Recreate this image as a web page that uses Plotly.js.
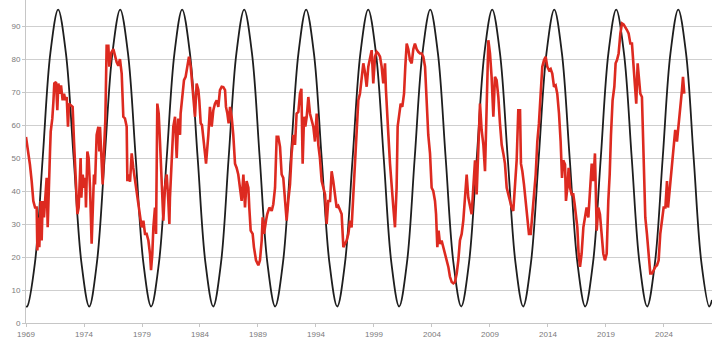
<!DOCTYPE html>
<html>
<head>
<meta charset="utf-8">
<script src="https://cdn.plot.ly/plotly-3.0.1.min.js"></script>
<style>html,body{margin:0;padding:0;background:#fff;}#chart{width:717px;height:355px;}</style>
</head>
<body>
<div id="chart"></div>
<script>
// Tick labels
const tickYears = [1969, 1974, 1979, 1984, 1989, 1994, 1999, 2004, 2009, 2014, 2019, 2024];
const tickLabels = ["1969", "1974", "1979", "1984", "1989", "1994", "1999", "2004", "2009", "2014", "2019", "2024"];

// Black cycle curve (extremes and intermediate points)
const blackYears = [1969.00, 1969.10, 1969.77, 1970.44, 1971.10,
  1971.77, 1972.44, 1973.11, 1973.78,
  1974.45, 1975.11, 1975.78, 1976.45,
  1977.12, 1977.79, 1978.46, 1979.12,
  1979.79, 1980.46, 1981.13, 1981.80,
  1982.46, 1983.13, 1983.80, 1984.47,
  1985.14, 1985.81, 1986.47, 1987.14,
  1987.81, 1988.48, 1989.15, 1989.81,
  1990.48, 1991.15, 1991.82, 1992.49,
  1993.15, 1993.82, 1994.49, 1995.16,
  1995.83, 1996.50, 1997.16, 1997.83,
  1998.50, 1999.17, 1999.84, 2000.50,
  2001.17, 2001.84, 2002.51, 2003.18,
  2003.85, 2004.51, 2005.18, 2005.85,
  2006.52, 2007.19, 2007.86, 2008.52,
  2009.19, 2009.86, 2010.53, 2011.20,
  2011.86, 2012.53, 2013.20, 2013.87,
  2014.54, 2015.20, 2015.87, 2016.54,
  2017.21, 2017.88, 2018.55, 2019.21,
  2019.88, 2020.55, 2021.22, 2021.89,
  2022.55, 2023.22, 2023.89, 2024.56,
  2025.23, 2025.90, 2026.56, 2027.23,
  2027.90, 2028.14];
const blackValues = [5.1, 5, 18.2, 50, 81.8,
  95, 81.8, 50, 18.2,
  5, 18.2, 50, 81.8,
  95, 81.8, 50, 18.2,
  5, 18.2, 50, 81.8,
  95, 81.8, 50, 18.2,
  5, 18.2, 50, 81.8,
  95, 81.8, 50, 18.2,
  5, 18.2, 50, 81.8,
  95, 81.8, 50, 18.2,
  5, 18.2, 50, 81.8,
  95, 81.8, 50, 18.2,
  5, 18.2, 50, 81.8,
  95, 81.8, 50, 18.2,
  5, 18.2, 50, 81.8,
  95, 81.8, 50, 18.2,
  5, 18.2, 50, 81.8,
  95, 81.8, 50, 18.2,
  5, 18.2, 50, 81.8,
  95, 81.8, 50, 18.2,
  5, 18.2, 50, 81.8,
  95, 81.8, 50, 18.2,
  5, 7];

// Red series
const redYears = [1969.00, 1969.20, 1969.34, 1969.49, 1969.63, 1969.78, 1969.92, 1969.98, 1970.06, 1970.15,
  1970.26, 1970.35, 1970.44, 1970.55, 1970.64, 1970.78, 1970.87, 1970.95, 1971.07, 1971.13,
  1971.27, 1971.36, 1971.44, 1971.59, 1971.70, 1971.79, 1971.93, 1972.02, 1972.16, 1972.28,
  1972.39, 1972.51, 1972.62, 1972.71, 1972.85, 1973.02, 1973.14, 1973.22, 1973.31, 1973.43,
  1973.54, 1973.66, 1973.71, 1973.77, 1973.89, 1974.00, 1974.11, 1974.17, 1974.29, 1974.40,
  1974.52, 1974.66, 1974.75, 1974.86, 1974.95, 1975.09, 1975.24, 1975.32, 1975.38, 1975.49,
  1975.61, 1975.72, 1975.84, 1975.95, 1976.10, 1976.18, 1976.36, 1976.53, 1976.67, 1976.82,
  1976.96, 1977.10, 1977.25, 1977.39, 1977.53, 1977.68, 1977.74, 1977.82, 1977.97, 1978.11,
  1978.25, 1978.40, 1978.54, 1978.68, 1978.83, 1978.97, 1979.12, 1979.26, 1979.40, 1979.55,
  1979.69, 1979.78, 1979.89, 1979.98, 1980.12, 1980.21, 1980.32, 1980.44, 1980.55, 1980.70,
  1980.84, 1980.98, 1981.13, 1981.27, 1981.36, 1981.41, 1981.56, 1981.70, 1981.85, 1981.99,
  1982.13, 1982.28, 1982.33, 1982.48, 1982.62, 1982.76, 1982.91, 1983.05, 1983.20, 1983.31,
  1983.43, 1983.57, 1983.71, 1983.86, 1983.94, 1984.06, 1984.17, 1984.29, 1984.43, 1984.52,
  1984.63, 1984.72, 1984.86, 1985.01, 1985.15, 1985.29, 1985.44, 1985.58, 1985.72, 1985.87,
  1986.01, 1986.16, 1986.24, 1986.36, 1986.47, 1986.59, 1986.73, 1986.87, 1987.02, 1987.16,
  1987.30, 1987.45, 1987.59, 1987.74, 1987.88, 1988.02, 1988.17, 1988.25, 1988.37, 1988.54,
  1988.65, 1988.83, 1989.03, 1989.17, 1989.32, 1989.40, 1989.52, 1989.69, 1989.80, 1989.98,
  1990.18, 1990.32, 1990.47, 1990.61, 1990.75, 1990.90, 1991.04, 1991.18, 1991.33, 1991.47,
  1991.61, 1991.76, 1991.90, 1992.05, 1992.19, 1992.33, 1992.48, 1992.62, 1992.74, 1992.85,
  1992.97, 1993.08, 1993.20, 1993.34, 1993.48, 1993.63, 1993.77, 1993.91, 1994.06, 1994.20,
  1994.34, 1994.49, 1994.63, 1994.78, 1994.92, 1995.06, 1995.21, 1995.35, 1995.49, 1995.64,
  1995.78, 1995.92, 1996.07, 1996.21, 1996.36, 1996.50, 1996.64, 1996.79, 1996.93, 1997.07,
  1997.22, 1997.36, 1997.51, 1997.65, 1997.79, 1997.94, 1998.08, 1998.22, 1998.37, 1998.51,
  1998.66, 1998.80, 1998.94, 1999.09, 1999.23, 1999.37, 1999.52, 1999.66, 1999.80, 1999.95,
  2000.03, 2000.09, 2000.24, 2000.38, 2000.52, 2000.67, 2000.81, 2000.95, 2001.04, 2001.16,
  2001.30, 2001.44, 2001.59, 2001.70, 2001.82, 2001.96, 2002.10, 2002.25, 2002.39, 2002.53,
  2002.68, 2002.82, 2002.97, 2003.11, 2003.25, 2003.40, 2003.54, 2003.68, 2003.83, 2003.97,
  2004.11, 2004.26, 2004.35, 2004.46, 2004.57, 2004.69, 2004.83, 2004.98, 2005.12, 2005.26,
  2005.41, 2005.55, 2005.70, 2005.84, 2005.98, 2006.13, 2006.27, 2006.41, 2006.56, 2006.70,
  2006.85, 2006.99, 2007.13, 2007.28, 2007.42, 2007.56, 2007.71, 2007.85, 2008.00, 2008.14,
  2008.28, 2008.43, 2008.57, 2008.71, 2008.86, 2009.00, 2009.14, 2009.29, 2009.43, 2009.57,
  2009.72, 2009.86, 2010.01, 2010.15, 2010.29, 2010.44, 2010.58, 2010.72, 2010.87, 2011.01,
  2011.16, 2011.30, 2011.44, 2011.59, 2011.67, 2011.79, 2011.93, 2012.07, 2012.22, 2012.36,
  2012.51, 2012.65, 2012.79, 2012.94, 2013.08, 2013.22, 2013.37, 2013.51, 2013.66, 2013.80,
  2013.94, 2014.09, 2014.23, 2014.37, 2014.52, 2014.66, 2014.80, 2014.95, 2015.09, 2015.21,
  2015.32, 2015.47, 2015.55, 2015.67, 2015.78, 2015.90, 2016.04, 2016.18, 2016.30, 2016.41,
  2016.53, 2016.64, 2016.76, 2016.90, 2017.05, 2017.19, 2017.33, 2017.48, 2017.62, 2017.77,
  2017.91, 2018.05, 2018.20, 2018.34, 2018.48, 2018.63, 2018.77, 2018.91, 2019.06, 2019.20,
  2019.32, 2019.43, 2019.57, 2019.72, 2019.83, 2019.95, 2020.09, 2020.24, 2020.38, 2020.52,
  2020.67, 2020.81, 2020.95, 2021.10, 2021.24, 2021.39, 2021.53, 2021.61, 2021.73, 2021.82,
  2021.96, 2022.10, 2022.25, 2022.39, 2022.53, 2022.68, 2022.82, 2022.97, 2023.11, 2023.25,
  2023.40, 2023.54, 2023.68, 2023.83, 2023.97, 2024.12, 2024.26, 2024.35, 2024.46, 2024.60,
  2024.72, 2024.83, 2024.97, 2025.12, 2025.26, 2025.41, 2025.55, 2025.64, 2025.75];
const redValues = [56.4, 52, 48, 43, 37, 35, 35, 22, 32, 23,
  37, 25, 37, 32, 38, 44, 29, 41, 52, 58,
  62, 67, 72.6, 73, 64.5, 72.6, 69.5, 72, 67.5, 69.5,
  67.5, 68.5, 59.5, 66.5, 66, 65.5, 55, 50, 43, 33,
  35, 43, 50, 38, 45, 41, 44, 35, 52, 50,
  41, 24, 37, 45, 42, 57, 59.5, 52, 59.5, 52,
  42, 52, 61.5, 84, 84, 77.7, 82, 83, 80.7, 79,
  78, 80, 75.6, 62.5, 62, 59.5, 43, 45, 42.8, 51.4,
  47, 43, 41, 37, 33, 29, 31, 27, 27, 25,
  21, 16, 21, 29, 35, 27, 66.5, 63.5, 55, 40,
  31, 41, 45, 37, 30, 38, 50, 59.5, 62.5, 50,
  62, 57, 63.5, 69.5, 73.6, 74.6, 77.7, 80.7, 77.7, 72.6,
  68.5, 62.5, 72.6, 70.6, 67.5, 60.5, 60, 55, 51.4, 48.3,
  52, 57, 65.5, 59.5, 64.5, 66.5, 67.5, 65.5, 70.6, 71.6,
  71.5, 70.6, 65.5, 63.5, 60.5, 65.5, 62.5, 57, 48.3, 47,
  45, 41, 37, 45, 35, 43, 41, 35, 28, 27,
  23, 19, 17.5, 19, 25, 32, 27, 31, 33, 35,
  34, 36, 41, 56.4, 56.4, 53.4, 45, 44, 37, 31,
  37, 42, 51.4, 57, 54, 63.5, 64, 69.5, 71, 48.3,
  62.5, 59.5, 62.5, 68.5, 63.5, 61.5, 59.5, 55, 63.5, 54,
  50, 43, 41, 39, 30, 37, 37, 46, 43, 38,
  35, 35.5, 34, 33, 23, 24, 25, 27, 31, 29,
  39, 49.3, 55, 67.5, 69.5, 73.6, 78.7, 76, 71.6, 77.7,
  80.7, 82.7, 72.6, 80.7, 82.2, 81.7, 80.7, 77.7, 72.6, 78.7,
  70.6, 65.5, 57, 48.3, 43, 35, 29, 41, 59.5, 62.5,
  66.5, 65.5, 69.5, 77.7, 84.7, 83, 79.7, 78.7, 83, 84.7,
  83, 82.2, 81.7, 81.7, 80.7, 77.7, 67.5, 57, 51.4, 41,
  40, 37, 33, 23, 28, 24, 25, 23, 21, 19,
  17, 14, 12.4, 12, 12.4, 15, 19, 25, 27, 31,
  37, 45, 38, 35, 33, 41, 49.3, 39, 54, 66.5,
  58.5, 54, 46, 66, 85.7, 81.7, 74.6, 62.5, 74.6, 73.6,
  68.5, 60.5, 54, 51.4, 48.3, 41, 39, 37, 35, 34,
  41, 49.3, 64.5, 64.5, 48.3, 46, 42, 37, 32, 27,
  27, 33, 40, 45, 55, 60.5, 69.5, 77.7, 79.7, 80.7,
  77.7, 76.6, 77, 75.6, 71.6, 72, 69.5, 63.5, 55, 44,
  49.3, 48, 37, 41, 47, 41, 39, 39, 36, 33,
  29, 21, 17, 21, 29, 32, 35, 32, 40, 48.3,
  43, 51.4, 28, 35, 33, 27, 21, 19, 21, 37,
  45, 57, 67.5, 71.6, 78.7, 79.7, 81.7, 87.8, 90.8, 90.5,
  89.8, 88.8, 87.8, 84.7, 84.7, 77.7, 70.6, 66.5, 78.7, 75.6,
  69.5, 68.5, 47, 32, 27, 20, 15, 15, 16, 17,
  17.5, 19, 27, 32, 35, 35, 43, 35, 39, 43,
  49.3, 51.4, 58.5, 55, 59.5, 65.5, 70.6, 74.6, 69.5];

const axisFont = {family: "Liberation Sans, Arial, sans-serif", size: 8, color: "#7a7a7a"};

const traces = [
  {
    x: blackYears, y: blackValues, type: "scatter", mode: "lines",
    line: {color: "#1e1e1e", width: 1.8, shape: "spline", smoothing: 1.0},
    hoverinfo: "skip", showlegend: false
  },
  {
    x: redYears, y: redValues, type: "scatter", mode: "lines",
    line: {color: "#dd2a20", width: 2.6, shape: "linear"},
    showlegend: false
  }
];

const layout = {
  width: 717, height: 355,
  margin: {l: 26, r: 5, t: 0, b: 32},
  paper_bgcolor: "#ffffff", plot_bgcolor: "#ffffff",
  showlegend: false,
  xaxis: {
    range: [1969, 2028.14],
    tickmode: "array", tickvals: tickYears, ticktext: tickLabels,
    showgrid: false, zeroline: false,
    showline: true, linecolor: "#c6c6c6", linewidth: 1,
    ticks: "outside", ticklen: 3, tickcolor: "#c6c6c6",
    tickfont: axisFont, tickangle: 0
  },
  yaxis: {
    range: [0, 97.9],
    tickmode: "array", tickvals: [0, 10, 20, 30, 40, 50, 60, 70, 80, 90],
    ticktext: ["0", "10", "20", "30", "40", "50", "60", "70", "80", "90"],
    showgrid: true, gridcolor: "#cfcfcf", gridwidth: 1,
    zeroline: false,
    showline: true, linecolor: "#c6c6c6", linewidth: 1,
    ticks: "outside", ticklen: 3, tickcolor: "#c6c6c6",
    tickfont: axisFont
  }
};

Plotly.newPlot("chart", traces, layout, {displayModeBar: false, staticPlot: true});
</script>
</body>
</html>
